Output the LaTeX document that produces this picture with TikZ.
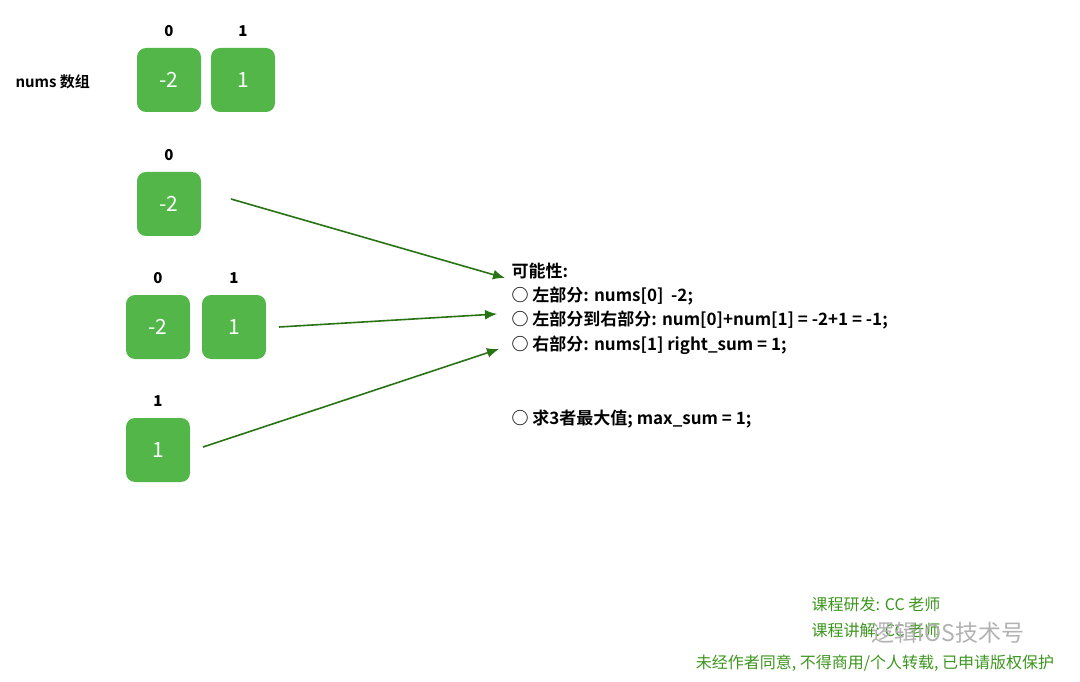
\documentclass[tikz,border=0pt]{standalone}
\usepackage{fontspec}
\setmainfont{Noto Sans CJK SC}[BoldFont={Noto Sans CJK SC Bold}]
\definecolor{boxgreen}{RGB}{82,182,72}
\definecolor{arrowgreen}{RGB}{40,115,20}
\definecolor{notegreen}{RGB}{60,150,30}
\usetikzlibrary{arrows.meta}
\tikzset{
  cell/.style = {draw=none, fill=boxgreen, rounded corners=9pt, minimum size=64pt,
                 text=white, font=\fontsize{21pt}{23pt}\selectfont},
  idx/.style  = {font=\fontsize{15pt}{17pt}\selectfont\bfseries\itshape},
  line/.style = {anchor=west, font=\fontsize{17pt}{20pt}\selectfont\bfseries},
  note/.style = {text=notegreen, font=\fontsize{16pt}{18pt}\selectfont},
  link/.style = {arrowgreen, line width=1.6pt, -{Latex[length=12pt,width=10pt]}}
}
\begin{document}
\begin{tikzpicture}[x=1pt, y=-1pt]
	\useasboundingbox (0,0) rectangle (1080,682);

	% nums array
	\node[anchor=west, font=\fontsize{15pt}{17pt}\selectfont\bfseries] (title) at (12, 82) {nums 数组};
	\node[cell] (a0) at (169, 80) {-2};
	\node[cell] (a1) at (243, 80) {1};
	\node[idx] (i0) at (169, 31) {0};
	\node[idx] (i1) at (243, 31) {1};

	% left part
	\node[cell] (l0) at (169, 204) {-2};
	\node[idx] (li0) at (169, 155) {0};

	% cross part
	\node[cell] (c0) at (158, 327) {-2};
	\node[cell] (c1) at (234, 327) {1};
	\node[idx] (ci0) at (158, 278) {0};
	\node[idx] (ci1) at (234, 278) {1};

	% right part
	\node[cell] (r0) at (158, 450) {1};
	\node[idx] (ri0) at (158, 401) {1};

	% text
	\node[line] (t0) at (508, 271) {可能性:};
	\node[line] (t1) at (508, 296) {○ 左部分: nums[0]\ \ -2;};
	\node[line] (t2) at (508, 320) {○ 左部分到右部分: num[0]+num[1] = -2+1 = -1;};
	\node[line] (t3) at (508, 345) {○ 右部分: nums[1] right\_sum = 1;};
	\node[line] (t4) at (508, 419) {○ 求3者最大值; max\_sum = 1;};

	\coordinate (e0) at (505, 278);
	\coordinate (e1) at (497, 314);
	\coordinate (e2) at (499, 349);
	\draw[link] ([xshift=62pt, yshift=5pt]l0.center) -- (e0);
	\draw[link] ([xshift=45pt]c1.center) -- (e1);
	\draw[link] ([xshift=45pt, yshift=3pt]r0.center) -- (e2);

	% footer
	\node[note] (n0) at (876, 604) {课程研发: CC 老师};
	\node[note] (n1) at (876, 630) {课程讲解: CC 老师};
	\node[text=gray!60, font=\fontsize{23pt}{25pt}\selectfont] (wm) at (948, 633) {逻辑iOS技术号};
	\node[note] (n2) at (875, 663) {未经作者同意, 不得商用/个人转载, 已申请版权保护};
\end{tikzpicture}
\end{document}
